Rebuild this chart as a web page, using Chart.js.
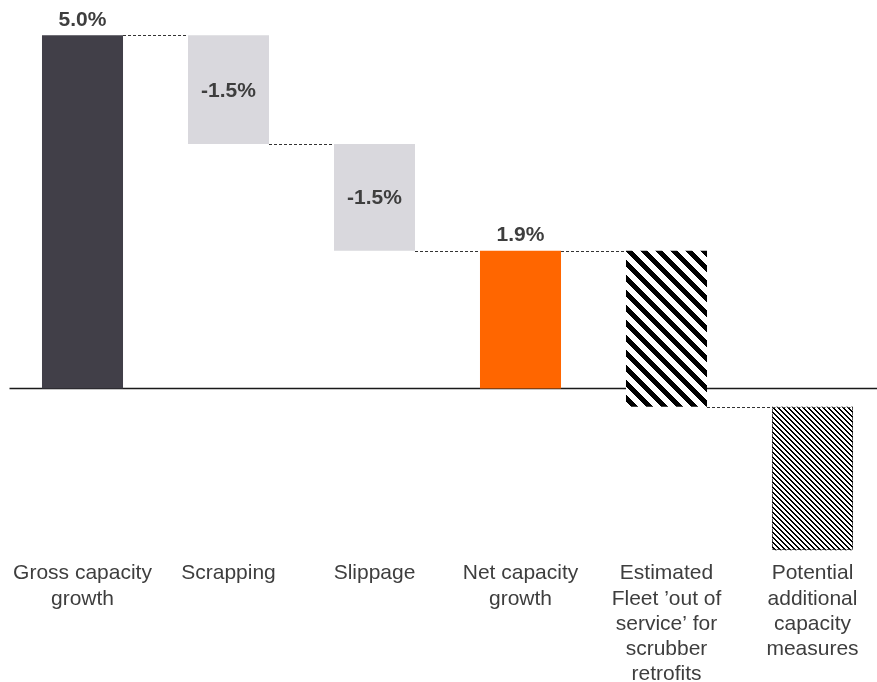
<!DOCTYPE html>
<html>
<head>
<meta charset="utf-8">
<script src="https://cdn.jsdelivr.net/npm/chart.js@4.4.1/dist/chart.umd.min.js"></script>
<style>
  html, body { margin: 0; padding: 0; background: #ffffff; overflow: hidden; }
  #wrap { position: relative; width: 886px; height: 682px; }
</style>
</head>
<body>
<div id="wrap"><canvas id="c"></canvas></div>
<script>
// ---- Data ----
const categories = [
  ['Gross capacity', 'growth'],
  ['Scrapping'],
  ['Slippage'],
  ['Net capacity', 'growth'],
  ['Estimated', 'Fleet ’out of', 'service’ for', 'scrubber', 'retrofits'],
  ['Potential', 'additional', 'capacity', 'measures']
];
const barStart = [0, 3.46, 1.95, 0, -0.26, -2.29];
const barEnd   = [5.0, 5.0, 3.46, 1.95, 1.95, -0.26];
const valueLabels = ['5.0%', '-1.5%', '-1.5%', '1.9%', '', ''];
const labelInside = [false, true, true, false, false, false];

// ---- Styles ----
const FONT = '"Liberation Sans", Arial, Helvetica, sans-serif';
const TEXT = '#3e3e3e';

function stripePattern(period, width, fg, bg) {
  const c = document.createElement('canvas');
  c.width = period; c.height = period;
  const g = c.getContext('2d');
  g.fillStyle = bg; g.fillRect(0, 0, period, period);
  g.fillStyle = fg;
  for (let y = 0; y < period; y++) {
    for (let x = 0; x < period; x++) {
      if (((x - y) % period + period) % period < width) g.fillRect(x, y, 1, 1);
    }
  }
  return document.getElementById('c').getContext('2d').createPattern(c, 'repeat');
}

const bigStripes = stripePattern(15, 7, '#000000', '#ffffff');
const fineStripes = stripePattern(5, 2, '#000000', '#ffffff');

const barColors = ['#413f48', '#d9d8dd', '#d9d8dd', '#ff6600', bigStripes, fineStripes];

const waterfallPlugin = {
  id: 'waterfallExtras',
  beforeDatasetsDraw(chart) {
    const { ctx, chartArea, scales } = chart;
    const y0 = scales.y.getPixelForValue(0);
    ctx.save();
    ctx.strokeStyle = '#1a1a1a';
    ctx.lineWidth = 1.6;
    ctx.beginPath();
    ctx.moveTo(chartArea.left, y0);
    ctx.lineTo(chartArea.right, y0);
    ctx.stroke();
    ctx.restore();
  },
  afterDatasetsDraw(chart) {
    const { ctx, scales } = chart;
    const meta = chart.getDatasetMeta(0);
    ctx.save();
    // dashed connectors
    ctx.strokeStyle = '#333333';
    ctx.lineWidth = 1.2;
    ctx.setLineDash([3, 2]);
    for (let i = 0; i < meta.data.length - 1; i++) {
      const a = [barStart[i], barEnd[i]];
      const b = [barStart[i + 1], barEnd[i + 1]];
      let level = null;
      for (const va of a) for (const vb of b) if (Math.abs(va - vb) < 1e-6) level = va;
      if (level === null) continue;
      const ba = meta.data[i], bb = meta.data[i + 1];
      const y = Math.round(scales.y.getPixelForValue(level)) + 0.5;
      ctx.beginPath();
      ctx.moveTo(ba.x + ba.width / 2, y);
      ctx.lineTo(bb.x - bb.width / 2, y);
      ctx.stroke();
    }
    // dashed border on last bar
    const last = meta.data[meta.data.length - 1];
    const l = Math.round(last.x - last.width / 2) + 0.5;
    const r = Math.round(last.x + last.width / 2) - 0.5;
    const t = Math.round(Math.min(last.y, last.base)) + 0.5;
    const bt = Math.round(Math.max(last.y, last.base)) - 0.5;
    ctx.strokeStyle = '#555555';
    ctx.lineWidth = 1;
    ctx.setLineDash([3, 2]);
    ctx.strokeRect(l, t, r - l, bt - t);
    ctx.setLineDash([]);
    // value labels
    ctx.fillStyle = TEXT;
    ctx.font = 'bold 21px ' + FONT;
    ctx.textAlign = 'center';
    meta.data.forEach((bar, i) => {
      const txt = valueLabels[i];
      if (!txt) return;
      if (labelInside[i]) {
        ctx.textBaseline = 'middle';
        ctx.fillText(txt, bar.x, (bar.y + bar.base) / 2 + 1);
      } else {
        ctx.textBaseline = 'alphabetic';
        ctx.fillText(txt, bar.x, Math.min(bar.y, bar.base) - 9.5);
      }
    });
    ctx.restore();
  }
};

new Chart(document.getElementById('c'), {
  type: 'bar',
  data: {
    labels: categories,
    datasets: [{
      data: barStart.map((s, i) => [s, barEnd[i]]),
      backgroundColor: barColors,
      borderWidth: 0,
      categoryPercentage: 1.0,
      barPercentage: 0.555
    }]
  },
  options: {
    responsive: true,
    maintainAspectRatio: false,
    animation: false,
    layout: { padding: { left: 9.5, right: 0.5, top: 0, bottom: 0 } },
    plugins: { legend: { display: false }, tooltip: { enabled: false } },
    scales: {
      x: {
        grid: { display: false, drawTicks: false },
        border: { display: false },
        ticks: {
          color: TEXT,
          padding: 3,
          maxRotation: 0,
          autoSkip: false,
          font: { family: FONT, size: 21, lineHeight: 1.2 }
        },
        afterFit(scale) { scale.height = 124; }
      },
      y: {
        display: false,
        min: -2.4,
        max: 5.5
      }
    }
  },
  plugins: [waterfallPlugin]
});
</script>
</body>
</html>
